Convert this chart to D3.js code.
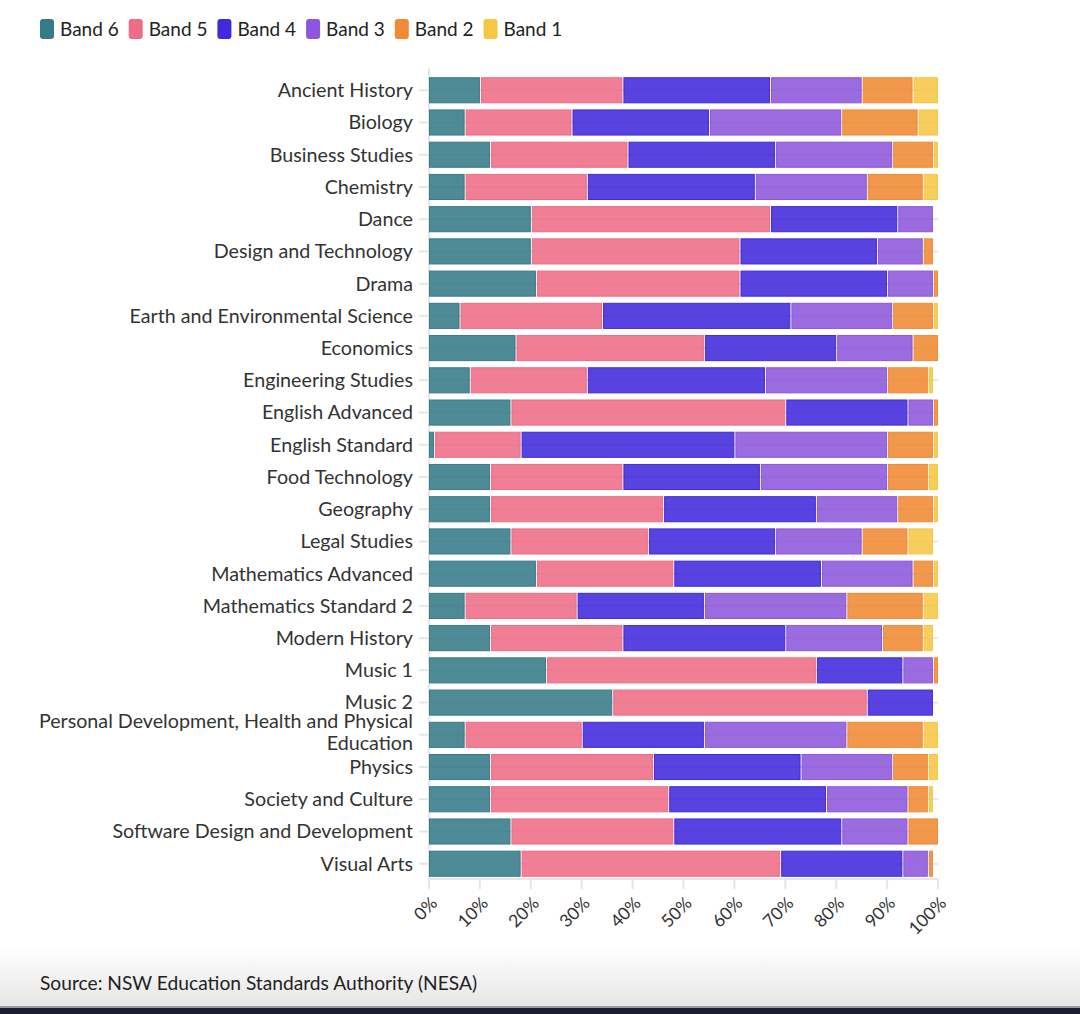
<!DOCTYPE html>
<html><head><meta charset="utf-8">
<script src="https://cdn.jsdelivr.net/npm/d3@7"></script>
<style>
html,body{margin:0;padding:0;background:#fff;}
svg{display:block;font-family:Lato, "Open Sans", sans-serif;}
</style></head>
<body><svg id="c" width="1080" height="1014"></svg>
<script>
const subjects = ["Ancient History","Biology","Business Studies","Chemistry","Dance","Design and Technology","Drama","Earth and Environmental Science","Economics","Engineering Studies","English Advanced","English Standard","Food Technology","Geography","Legal Studies","Mathematics Advanced","Mathematics Standard 2","Modern History","Music 1","Music 2","Personal Development, Health and Physical Education","Physics","Society and Culture","Software Design and Development","Visual Arts"];
const bands = ["Band 6","Band 5","Band 4","Band 3","Band 2","Band 1"];
const band6 = [10,7,12,7,20,20,21,6,17,8,16,1,12,12,16,21,7,12,23,36,7,12,12,16,18];
const band5 = [28,21,27,24,47,41,40,28,37,23,54,17,26,34,27,27,22,26,53,50,23,32,35,32,51];
const band4 = [29,27,29,33,25,27,29,37,26,35,24,42,27,30,25,29,25,32,17,13,24,29,31,33,24];
const band3 = [18,26,23,22,7,9,9,20,15,24,5,30,25,16,17,18,28,19,6,0,28,18,16,13,5];
const band2 = [10,15,8,11,0,2,1,8,5,8,1,9,8,7,9,4,15,8,1,0,15,7,4,6,1];
const band1 = [5,4,1,3,0,0,0,1,0,1,0,1,2,1,5,1,3,2,0,0,3,2,1,0,0];
const xTicks = [0,10,20,30,40,50,60,70,80,90,100];
const colors = ["#357b88","#ee6c85","#4129dc","#8d56dc","#f08a34","#f6c645"];

const seriesVals = [band6,band5,band4,band3,band2,band1];
const rows = subjects.map((s,i)=>{const o={subject:s}; bands.forEach((b,j)=>o[b]=seriesVals[j][i]); return o;});
const stacked = d3.stack().keys(bands)(rows);

const svg = d3.select("#c");
const left = 429, right = 938;
const x = d3.scaleLinear().domain([0,100]).range([left,right]);
const y = d3.scaleBand().domain(subjects).range([74,880]).paddingInner(0.19).paddingOuter(0.1);

// footer gradient
const defs = svg.append("defs");
const lg = defs.append("linearGradient").attr("id","fg").attr("x1",0).attr("y1",0).attr("x2",0).attr("y2",1);
lg.append("stop").attr("offset","0%").attr("stop-color","#ffffff");
lg.append("stop").attr("offset","100%").attr("stop-color","#e6e6e6");
svg.append("rect").attr("x",0).attr("y",945).attr("width",1080).attr("height",62).attr("fill","url(#fg)");
svg.append("rect").attr("x",0).attr("y",1006).attr("width",1080).attr("height",2).attr("fill","#9a99a6");
svg.append("rect").attr("x",0).attr("y",1008).attr("width",1080).attr("height",6).attr("fill","#1d1b2e");

// gridlines at categories
svg.append("g").selectAll("line").data(subjects).join("line")
  .attr("x1",left-10).attr("x2",right).attr("y1",d=>y(d)+y.bandwidth()/2).attr("y2",d=>y(d)+y.bandwidth()/2)
  .attr("stroke","#e6e6e6").attr("stroke-width",2);
svg.append("line").attr("x1",left).attr("x2",left).attr("y1",68).attr("y2",880).attr("stroke","#e6e6e6").attr("stroke-width",2);

// bars
const g = svg.append("g");
stacked.forEach((ser,j)=>{
  g.append("g").selectAll("rect").data(ser.filter(d=>d[1]-d[0]>0)).join("rect")
    .attr("x",d=>x(d[0])+(d[0]>0?1.5:0.5))
    .attr("width",d=>Math.max(0.5,x(d[1])-x(d[0])-(d[0]>0?2:1)))
    .attr("y",d=>y(d.data.subject)+0.5)
    .attr("height",y.bandwidth()-1)
    .attr("fill",colors[j]).attr("fill-opacity",0.88)
    .attr("stroke",colors[j]).attr("stroke-width",1);
});

// y labels
const yl = svg.append("g").attr("font-size",19.7).attr("fill","#333").attr("text-anchor","end");
subjects.forEach(s=>{
  const cy = y(s)+y.bandwidth()/2;
  if(s.startsWith("Personal")){
    const t = yl.append("text").attr("x",413).attr("y",cy-14).attr("dy","0.35em");
    t.append("tspan").attr("x",413).text("Personal Development, Health and Physical");
    t.append("tspan").attr("x",413).attr("dy","1.12em").text("Education");
  } else {
    yl.append("text").attr("x",413).attr("y",cy).attr("dy","0.35em").text(s);
  }
});

// x axis
const xa = svg.append("g");
xa.append("line").attr("x1",left).attr("x2",right).attr("y1",879).attr("y2",879).attr("stroke","#e6e6e6").attr("stroke-width",2);
const tk = xa.selectAll("g").data(xTicks).join("g").attr("transform",d=>`translate(${x(d)},879)`);
tk.append("line").attr("y1",0).attr("y2",10).attr("stroke","#e6e6e6").attr("stroke-width",2);
tk.append("text").attr("transform","translate(5,21) rotate(-45)").attr("text-anchor","end")
  .attr("dy","0.35em").attr("font-size",17.5).attr("fill","#333").text(d=>d+"%");

// legend
const leg = svg.append("g").attr("font-size",19).attr("fill","#222");
let lx = 40;
bands.forEach((b,j)=>{
  leg.append("rect").attr("x",lx).attr("y",19).attr("width",14).attr("height",20).attr("rx",3).attr("fill",colors[j]);
  const t = leg.append("text").attr("x",lx+20).attr("y",29).attr("dy","0.35em").text(b);
  lx += 20 + t.node().getComputedTextLength() + 10;
});

// source
svg.append("text").attr("x",40).attr("y",983).attr("dy","0.35em").attr("font-size",19.2).attr("fill","#222")
  .text("Source: NSW Education Standards Authority (NESA)");
</script></body></html>
